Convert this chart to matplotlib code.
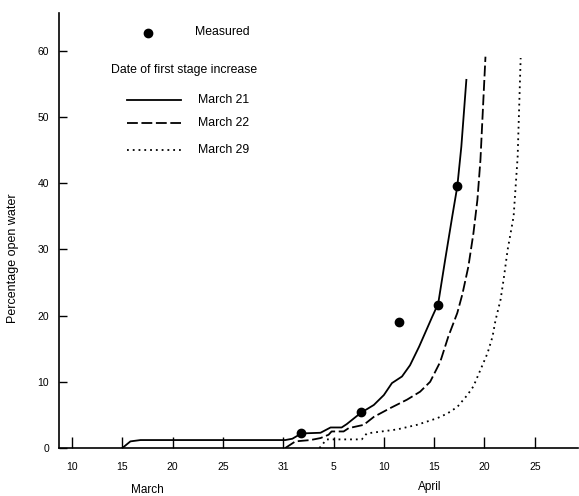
import matplotlib
matplotlib.use("Agg")
import matplotlib.pyplot as plt
from matplotlib.lines import Line2D
import matplotlib.transforms as mtransforms

plt.rcParams['font.family'] = ['Liberation Sans', 'DejaVu Sans']

# Day number counted from March 1 (April 1 = day 32)
tick_days = [10, 15, 20, 25, 31, 36, 41, 46, 51, 56]
tick_labels = ['10', '15', '20', '25', '31', '5', '10', '15', '20', '25']
y_ticks = [0, 10, 20, 30, 40, 50, 60]

# Date of first stage increase: March 21 (solid)
mar21_d = [15.0, 15.8, 16.8, 31.2, 31.9, 32.8, 34.7, 35.7, 36.8, 37.3, 38.7, 40.0,
           41.0, 41.8, 42.8, 43.6, 44.5, 45.8, 46.4, 47.1, 47.8, 48.3, 48.7, 49.2]
mar21_y = [0.0, 1.0, 1.2, 1.2, 1.4, 2.2, 2.3, 3.1, 3.1, 3.6, 5.3, 6.5,
           8.0, 9.8, 10.8, 12.5, 15.3, 19.8, 21.8, 28.5, 35.0, 39.5, 45.5, 55.6]

# March 22 (dashed)
mar22_d = [31.2, 32.2, 33.7, 34.7, 35.5, 35.8, 37.0, 37.5, 39.0, 40.0, 41.6, 43.3,
           44.6, 45.6, 46.6, 47.4, 48.3, 48.8, 49.4, 49.9, 50.3, 50.6, 51.1]
mar22_y = [0.0, 1.0, 1.2, 1.5, 2.0, 2.5, 2.5, 3.0, 3.5, 4.7, 6.0, 7.3,
           8.5, 10.0, 13.0, 16.8, 20.4, 23.2, 27.4, 32.4, 37.5, 43.5, 59.1]

# March 29 (dotted)
mar29_d = [34.6, 35.3, 38.8, 39.3, 42.3, 44.3, 46.3, 47.3, 48.3, 49.3, 49.9, 50.6,
           51.3, 51.8, 52.1, 52.6, 52.9, 53.3, 53.9, 54.3, 54.6]
mar29_y = [0.0, 1.3, 1.3, 2.2, 2.8, 3.5, 4.5, 5.2, 6.2, 8.0, 9.3, 11.8,
           14.3, 16.8, 19.3, 22.4, 25.4, 29.9, 35.0, 44.0, 58.9]

# Measured
meas_d = [32.8, 38.7, 42.5, 46.4, 48.3]
meas_y = [2.2, 5.4, 19.1, 21.6, 39.5]

W, H = 579, 496
fig = plt.figure(figsize=(W / 100, H / 100), dpi=100)
ax = fig.add_axes([59 / W, 1 - 448 / H, (578 - 59) / W, (448 - 13) / H])

lw = 1.3
ax.plot(mar21_d, mar21_y, color='black', lw=lw, ls='-')
ax.plot(mar22_d, mar22_y, color='black', lw=lw, ls=(0, (6, 2)))
ax.plot(mar29_d, mar29_y, color='black', lw=lw, ls=(0, (1, 2.2)))
ax.plot(meas_d, meas_y, 'o', color='black', ms=6, ls='none')

ax.set_xlim(8.7, 60.3)
ax.set_ylim(0, 65.7)
ax.spines['top'].set_visible(False)
ax.spines['right'].set_visible(False)
ax.spines['left'].set_linewidth(1.2)
ax.spines['bottom'].set_linewidth(1.2)

ax.set_xticks(tick_days)
ax.set_xticklabels(tick_labels)
ax.set_yticks(y_ticks)
ax.tick_params(axis='x', direction='in', length=8, width=1, pad=10, labelsize=7.5)
ax.tick_params(axis='y', direction='in', length=6, width=1, pad=7, labelsize=7.5)

ax.set_ylabel('Percentage open water', fontsize=9)
ax.yaxis.set_label_coords(-0.077, 0.437)

trans = mtransforms.blended_transform_factory(ax.transData, ax.transAxes)
ax.text(17.5, -0.097, 'March', transform=trans, ha='center', va='center', fontsize=8.5)
ax.text(45.6, -0.09, 'April', transform=trans, ha='center', va='center', fontsize=8.5)

# Legend drawn manually in figure pixels
def fx(x):
    return x / W

def fy(y):
    return 1 - y / H

fig.add_artist(Line2D([fx(148)], [fy(33)], marker='o', color='black', ms=6, ls='none'))
fig.text(fx(195), fy(32), 'Measured', fontsize=8.8, va='center', ha='left')
fig.text(fx(111), fy(70), 'Date of first stage increase', fontsize=8.8, va='center', ha='left')
for yy, style, lab in [(100, '-', 'March 21'), (123, (0, (6, 2)), 'March 22'),
                       (150, (0, (1, 2.2)), 'March 29')]:
    fig.add_artist(Line2D([fx(127), fx(181)], [fy(yy), fy(yy)], color='black', lw=lw, ls=style))
    fig.text(fx(198), fy(yy), lab, fontsize=8.8, va='center', ha='left')

fig.savefig('out.png', dpi=100)
